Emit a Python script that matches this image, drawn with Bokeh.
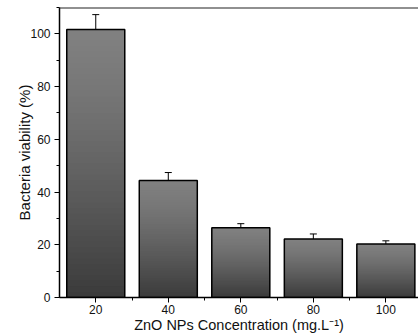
from bokeh.plotting import figure
from bokeh.models import (ColumnDataSource, Whisker, TeeHead, Span, FixedTicker,
                          SingleIntervalTicker, Range1d)
from bokeh.embed import file_html
from bokeh.resources import INLINE

# ---- data ----
concentrations = [20, 40, 60, 80, 100]
viability = [101.7, 44.4, 26.5, 22.2, 20.3]
viability_err = [5.6, 3.0, 1.5, 1.9, 1.2]
x_ticks = [20, 40, 60, 80, 100]
x_minor = [30, 50, 70, 90]

X_MIN, X_MAX = 10, 109
Y_MIN, Y_MAX = 0, 110
BAR_W = 16
FONT = "Liberation Sans"

p = figure(width=418, height=335, output_backend="svg", toolbar_location=None,
           x_range=Range1d(X_MIN, X_MAX), y_range=Range1d(Y_MIN, Y_MAX),
           min_border_left=59, min_border_right=0, min_border_top=7,
           min_border_bottom=0)
p.outline_line_color = None
p.grid.grid_line_color = None
p.background_fill_color = "white"
p.border_fill_color = "white"

# gradient bars: stacked overlapping slices, light at top -> dark at bottom
N = 48
top_c = (0x80, 0x80, 0x80)
bot_c = (0x3b, 0x3b, 0x3b)
for i in range(N):
    frac = 1 - i / N  # fraction of bar height covered
    t = i / (N - 1)
    t2 = t ** 1.3
    col = tuple(int(round(top_c[k] + (bot_c[k] - top_c[k]) * t2)) for k in range(3))
    hexc = "#%02x%02x%02x" % col
    src = ColumnDataSource(dict(x=concentrations,
                                top=[v * frac for v in viability]))
    p.vbar(x="x", top="top", bottom=0, width=BAR_W, source=src,
           fill_color=hexc, line_color=None)

outline_src = ColumnDataSource(dict(x=concentrations, top=viability))
p.vbar(x="x", top="top", bottom=0, width=BAR_W, source=outline_src,
       fill_color=None, line_color="black", line_width=1.5)

err_src = ColumnDataSource(dict(
    x=concentrations,
    upper=[v + e for v, e in zip(viability, viability_err)],
    lower=[v - e for v, e in zip(viability, viability_err)]))
w = Whisker(base="x", upper="upper", lower="lower", source=err_src,
            line_color="black", line_width=1,
            upper_head=TeeHead(size=7, line_color="black", line_width=1),
            lower_head=TeeHead(size=7, line_color="black", line_width=1))
p.add_layout(w)

# top border line
p.add_layout(Span(location=Y_MAX, dimension="width", line_color="#222222",
                  line_width=2))

# axes
xa = p.xaxis[0]
xa.ticker = FixedTicker(ticks=x_ticks, minor_ticks=x_minor)
ya = p.yaxis[0]
ya.ticker = SingleIntervalTicker(interval=20, num_minor_ticks=2)

for ax in (xa, ya):
    ax.axis_line_color = "black"
    ax.axis_line_width = 1.5
    ax.major_tick_line_color = "black"
    ax.major_tick_line_width = 1
    ax.major_tick_out = 5
    ax.major_tick_in = 0
    ax.minor_tick_line_color = "black"
    ax.minor_tick_line_width = 1
    ax.minor_tick_out = 3
    ax.minor_tick_in = 0
    ax.major_label_text_font = FONT
    ax.major_label_text_font_size = "12px"
    ax.major_label_text_color = "#111111"
    ax.axis_label_text_font = FONT
    ax.axis_label_text_font_style = "normal"
    ax.axis_label_text_color = "#111111"

xa.major_label_standoff = 2
xa.axis_label_standoff = 0
ya.major_label_standoff = 4
ya.axis_label_standoff = -6

xa.axis_label = "ZnO NPs Concentration (mg.L\u207b\u00b9)"
xa.axis_label_text_font_size = "14.5px"
ya.axis_label = "Bacteria viability (%)"
ya.axis_label_text_font_size = "15px"

open("out.html", "w").write(file_html(p, INLINE))
